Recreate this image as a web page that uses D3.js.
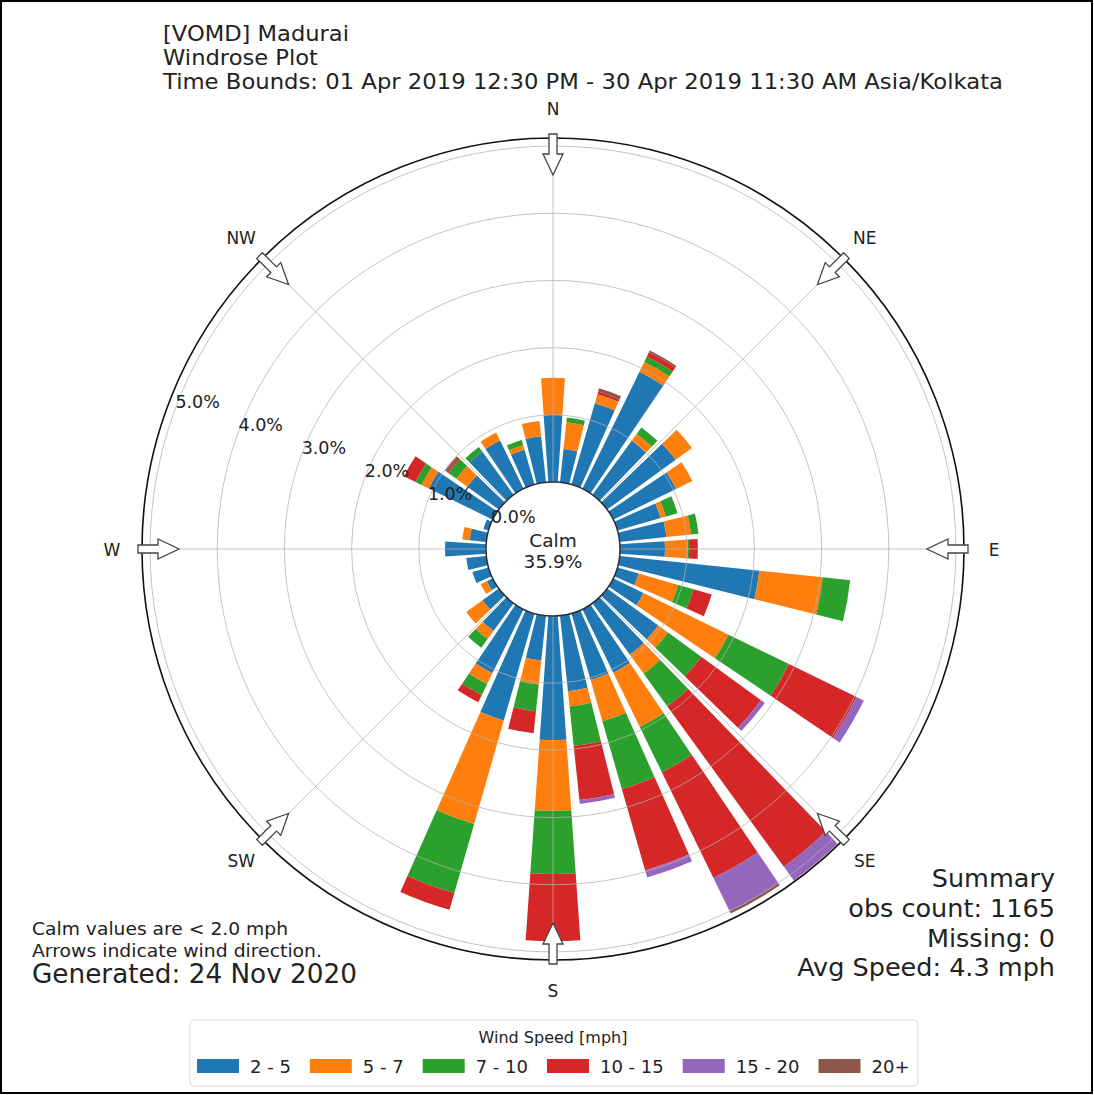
<!DOCTYPE html>
<html><head><meta charset="utf-8">
<script src="https://cdn.jsdelivr.net/npm/d3@7"></script>
<style>body{margin:0;background:#fff} svg{display:block} text{font-family:"DejaVu Sans",sans-serif;fill:#222}</style>
</head><body><svg id="c" width="1094" height="1095"></svg>
<script>
// ---------------- data ----------------
const directions = d3.range(0, 360, 10);
const speedBins = ["2 - 5", "5 - 7", "7 - 10", "10 - 15", "15 - 20", "20+"];
const binColors = ["#1f77b4", "#ff7f0e", "#2ca02c", "#d62728", "#9467bd", "#8c564b"];
// percent of observations, index = direction/10
const spd2to5 = [1.00,0.50,1.26,1.94,1.00,1.26,1.04,0.67,0.70,0.67,2.09,0.33,0.50,0.94,0.95,1.05,1.03,1.13,1.85,0.67,1.66,1.06,0.51,0.30,0.10,0.25,0.30,0.61,0.25,0.08,1.06,0.58,0.79,0.80,0.54,0.69];
const spd5to7 = [0.55,0.40,0.14,0.16,0.12,0.30,0.27,0.08,0.37,0.34,0.95,0.61,1.41,0.18,0.35,0.90,0.64,0.23,1.05,0.36,1.60,0.18,0.15,0.30,0.10,0,0,0,0.11,0,0.12,0.20,0,0.13,0.07,0.23];
const spd7to10 = [0,0.07,0,0.09,0.12,0,0,0.18,0.11,0.02,0.41,0.24,1.00,0.61,0.60,0.75,1.05,0.59,0.94,0.40,1.07,0.18,0.16,0,0,0,0,0,0,0,0.10,0.15,0.09,0,0.08,0];
const spd10to15 = [0,0,0.04,0.07,0,0,0,0,0,0.13,0,0.28,1.12,1.10,2.95,1.75,1.26,0.81,1.00,0.33,0.26,0.12,0,0,0,0,0,0,0,0,0.19,0.03,0,0,0,0];
const spd15to20 = [0,0,0,0,0,0,0,0,0,0,0,0,0.12,0.07,0.25,0.55,0.11,0.06,0,0,0,0,0,0,0,0,0,0,0,0,0,0,0,0,0,0];
const spd20plus = [0,0,0.05,0.03,0,0,0,0,0,0,0,0,0,0,0,0.04,0,0,0,0,0,0,0,0,0,0,0,0,0,0,0,0.03,0,0,0,0];
const ringTicks = [0, 1, 2, 3, 4, 5];
const rMax = 5.12;
const compass = [["N",0],["NE",45],["E",90],["SE",135],["S",180],["SW",225],["W",270],["NW",315]];
const calmPct = "35.9%";
const titleLines = ["[VOMD] Madurai", "Windrose Plot", "Time Bounds: 01 Apr 2019 12:30 PM - 30 Apr 2019 11:30 AM Asia/Kolkata"];
const noteLines = ["Calm values are < 2.0 mph", "Arrows indicate wind direction."];
const generatedText = "Generated: 24 Nov 2020";
const summaryLines = ["Summary", "obs count: 1165", "Missing: 0", "Avg Speed: 4.3 mph"];
const legendTitle = "Wind Speed [mph]";

// ---------------- layout ----------------
const svg = d3.select("#c");
const cx = 553, cy = 549;
const r = d3.scaleLinear().domain([0, rMax]).range([67, 411]);
const rad = d => d * Math.PI / 180;
const g = svg.append("g").attr("transform", `translate(${cx},${cy})`);

// border
svg.append("rect").attr("x", 1).attr("y", 1).attr("width", 1091).attr("height", 1092)
  .attr("fill", "none").attr("stroke", "#000").attr("stroke-width", 2);

// bars
const series = [spd2to5, spd5to7, spd7to10, spd10to15, spd15to20, spd20plus];
const rows = directions.map((d, i) => {
  const o = {dir: d};
  speedBins.forEach((k, j) => o[k] = series[j][i]);
  return o;
});
const stacked = d3.stack().keys(speedBins)(rows);
const arc = d3.arc();
stacked.forEach((layer, j) => {
  g.append("g").selectAll("path").data(layer.filter(d => d[1] - d[0] > 0)).join("path")
    .attr("fill", binColors[j])
    .attr("d", d => arc({
      innerRadius: r(d[0]), outerRadius: r(d[1]),
      startAngle: rad(d.data.dir - 4), endAngle: rad(d.data.dir + 4)
    }));
});

// grid on top
const grid = g.append("g").attr("stroke", "#b0b0b0").attr("stroke-opacity", 0.75).attr("fill", "none");
grid.selectAll("circle").data(ringTicks).join("circle").attr("r", d => r(d)).attr("stroke-width", 1);
grid.selectAll("line").data(compass).join("line")
  .attr("x1", d => r(0) * Math.sin(rad(d[1]))).attr("y1", d => -r(0) * Math.cos(rad(d[1])))
  .attr("x2", d => r(rMax) * Math.sin(rad(d[1]))).attr("y2", d => -r(rMax) * Math.cos(rad(d[1])))
  .attr("stroke-width", 1);

// outer spine
g.append("circle").attr("r", r(rMax)).attr("fill", "none").attr("stroke", "#111").attr("stroke-width", 1.6);

// calm circle
g.append("circle").attr("r", r(0)).attr("fill", "#fff").attr("stroke", "#2a2a3a").attr("stroke-width", 1.5);
g.append("text").attr("x", 0).attr("y", -2).attr("text-anchor", "middle").style("font-size", "18.5px").text("Calm");
g.append("text").attr("x", 0).attr("y", 19).attr("text-anchor", "middle").style("font-size", "18.5px").text(calmPct);

// ring labels
const labAng = rad(290);
g.append("g").selectAll("text").data(ringTicks).join("text")
  .attr("x", d => r(d) * Math.sin(labAng) + 1)
  .attr("y", d => -r(d) * Math.cos(labAng) - 3)
  .style("font-size", "17.5px")
  .text(d => d3.format(".1f")(d) + "%");

// arrows
const arrowLocal = [[-4, 415], [4, 415], [4, 395], [10, 395], [0, 374], [-10, 395], [-4, 395]];
g.append("g").selectAll("polygon").data(compass).join("polygon")
  .attr("points", d => {
    const a = rad(d[1]);
    return arrowLocal.map(([w, rr]) => [rr * Math.sin(a) + w * Math.cos(a), -rr * Math.cos(a) + w * Math.sin(a)].join(",")).join(" ");
  })
  .attr("fill", "#fff").attr("stroke", "#444").attr("stroke-width", 1.3);

// compass labels
g.append("g").selectAll("text").data(compass).join("text")
  .attr("x", d => 441 * Math.sin(rad(d[1])))
  .attr("y", d => -441 * Math.cos(rad(d[1])) + 6.5)
  .attr("text-anchor", "middle").style("font-size", "17px")
  .text(d => d[0]);

// title
const titleY = [41, 65, 89];
const titleW = [186, 155, 840];
titleLines.forEach((t, i) => {
  svg.append("text").attr("x", 163).attr("y", titleY[i]).style("font-size", "22px")
    .attr("textLength", titleW[i]).attr("lengthAdjust", "spacingAndGlyphs").text(t);
});

// notes
const noteY = [935, 957];
const noteW = [256, 290];
noteLines.forEach((t, i) => {
  svg.append("text").attr("x", 32).attr("y", noteY[i]).style("font-size", "18.5px")
    .attr("textLength", noteW[i]).attr("lengthAdjust", "spacingAndGlyphs").text(t);
});
svg.append("text").attr("x", 32).attr("y", 983).style("font-size", "26px")
  .attr("textLength", 325).attr("lengthAdjust", "spacingAndGlyphs").text(generatedText);

// summary
const sumY = [887, 917, 947, 976];
summaryLines.forEach((t, i) => {
  svg.append("text").attr("x", 1055).attr("y", sumY[i]).attr("text-anchor", "end")
    .style("font-size", "25.5px").text(t);
});

// legend
const leg = svg.append("g");
leg.append("rect").attr("x", 190).attr("y", 1020).attr("width", 728).attr("height", 66)
  .attr("rx", 4).attr("fill", "#fff").attr("stroke", "#d8d8d8").attr("stroke-width", 1);
leg.append("text").attr("x", 553).attr("y", 1043).attr("text-anchor", "middle")
  .style("font-size", "16px").text(legendTitle);
let lx = 197;
speedBins.forEach((b, i) => {
  leg.append("rect").attr("x", lx).attr("y", 1059).attr("width", 42).attr("height", 14).attr("fill", binColors[i]);
  const t = leg.append("text").attr("x", lx + 53).attr("y", 1072.5).style("font-size", "18px").text(b);
  lx += 53 + t.node().getComputedTextLength() + 19;
});
</script></body></html>
